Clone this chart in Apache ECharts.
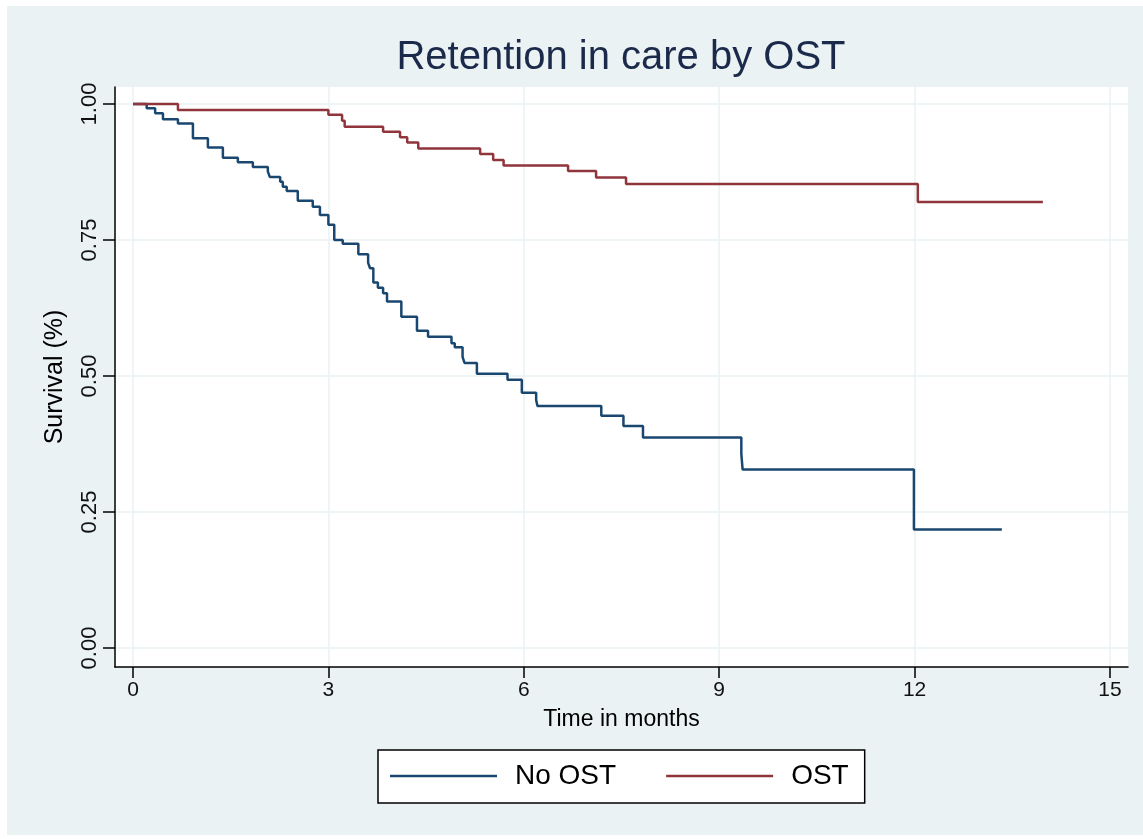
<!DOCTYPE html>
<html>
<head>
<meta charset="utf-8">
<script src="https://cdn.jsdelivr.net/npm/echarts@6/dist/echarts.min.js"></script>
<style>
html,body{margin:0;padding:0;background:#ffffff;}
#chart{width:1143px;height:839px;}
</style>
</head>
<body>
<div id="chart"></div>
<script>
// Kaplan-Meier estimates (time in months, survival)
const noOstTime = [0, 0.21, 0.34, 0.46, 0.69, 0.92, 1.15, 1.38, 1.61, 1.84, 2.07, 2.10, 2.26, 2.30, 2.36, 2.53, 2.76, 2.87, 3.00, 3.09, 3.22, 3.46, 3.61, 3.64, 3.69, 3.76, 3.84, 3.90, 4.12, 4.36, 4.53, 4.89, 4.94, 5.06, 5.09, 5.28, 5.75, 5.97, 6.19, 6.21, 7.19, 7.53, 7.83, 9.34, 9.36, 11.99, 13.34];
const noOstSurv = [1.000, 0.992, 0.983, 0.972, 0.964, 0.937, 0.920, 0.901, 0.893, 0.884, 0.876, 0.866, 0.857, 0.848, 0.840, 0.822, 0.811, 0.796, 0.778, 0.750, 0.743, 0.724, 0.708, 0.698, 0.672, 0.662, 0.652, 0.637, 0.609, 0.583, 0.572, 0.560, 0.553, 0.535, 0.524, 0.504, 0.493, 0.469, 0.456, 0.445, 0.427, 0.408, 0.387, 0.357, 0.328, 0.218, 0.218];
const ostTime = [0, 0.69, 3.00, 3.21, 3.25, 3.84, 4.10, 4.21, 4.38, 5.33, 5.53, 5.69, 6.68, 7.11, 7.57, 12.05, 13.97];
const ostSurv = [1.000, 0.989, 0.980, 0.969, 0.958, 0.949, 0.939, 0.929, 0.918, 0.908, 0.897, 0.887, 0.877, 0.865, 0.853, 0.820, 0.820];
const seriesNames = ['No OST', 'OST'];
const xTicks = [0, 3, 6, 9, 12, 15];
const yTicks = [0, 0.25, 0.50, 0.75, 1.00];
const titleText = 'Retention in care by OST';
const xName = 'Time in months';
const yName = 'Survival (%)';

const pair = (t, s) => t.map((v, i) => [v, s[i]]);
const chart = echarts.init(document.getElementById('chart'), null, {renderer: 'canvas'});
const font = 'Liberation Sans, Arial, sans-serif';

chart.setOption({
  backgroundColor: '#ffffff',
  animation: false,
  textStyle: {fontFamily: font},
  graphic: [
    {type: 'rect', z: -10, silent: true, shape: {x: 7, y: 6, width: 1136, height: 829}, style: {fill: '#eaf2f3'}},
    {type: 'text', x: 621, y: 58, silent: true, style: {text: titleText, font: '40px ' + font, fill: '#1b2a4a', align: 'center', verticalAlign: 'middle'}}
  ],
  grid: {left: 115, right: 15, top: 87, bottom: 172, show: true, backgroundColor: '#ffffff', borderWidth: 0},
  legend: {
    left: 378, top: 750,
    padding: [12, 16, 13, 12],
    backgroundColor: '#ffffff', borderColor: '#000000', borderWidth: 1.5,
    itemWidth: 107, itemHeight: 2.5, itemGap: 50,
    icon: 'rect',
    textStyle: {fontSize: 28, color: '#000000', fontFamily: font, padding: [0, 0, 0, 13]},
    data: seriesNames
  },
  xAxis: {
    type: 'value', min: -0.2764, max: 15.277,
    name: xName, nameLocation: 'middle', nameGap: 41,
    nameTextStyle: {fontSize: 23, color: '#000000'},
    axisLine: {show: true, onZero: false, lineStyle: {color: '#000000', width: 1.5}},
    axisTick: {show: true, length: 11, customValues: xTicks, lineStyle: {color: '#000000', width: 1.5}},
    axisLabel: {customValues: xTicks, fontSize: 21, color: '#111111', margin: 13, formatter: v => String(Math.round(v))},
    splitLine: {show: true, lineStyle: {color: '#eaf2f3', width: 1.5}}
  },
  yAxis: {
    type: 'value', min: -0.0349, max: 1.0312,
    name: yName, nameLocation: 'middle', nameGap: 47, nameRotate: 90,
    nameTextStyle: {fontSize: 25, color: '#000000'},
    axisLine: {show: true, onZero: false, lineStyle: {color: '#000000', width: 1.5}},
    axisTick: {show: true, length: 12, customValues: yTicks, lineStyle: {color: '#000000', width: 1.5}},
    axisLabel: {customValues: yTicks, rotate: 90, fontSize: 22, color: '#111111', margin: 14, formatter: v => v.toFixed(2)},
    splitLine: {show: true, lineStyle: {color: '#eaf2f3', width: 1.5}}
  },
  series: [
    {name: seriesNames[0], type: 'line', step: 'end', showSymbol: false, symbol: 'none', color: '#1a476f',
     lineStyle: {width: 2.5, color: '#1a476f'}, data: pair(noOstTime, noOstSurv)},
    {name: seriesNames[1], type: 'line', step: 'end', showSymbol: false, symbol: 'none', color: '#90353b',
     lineStyle: {width: 2.5, color: '#90353b'}, data: pair(ostTime, ostSurv)}
  ]
});
</script>
</body>
</html>
